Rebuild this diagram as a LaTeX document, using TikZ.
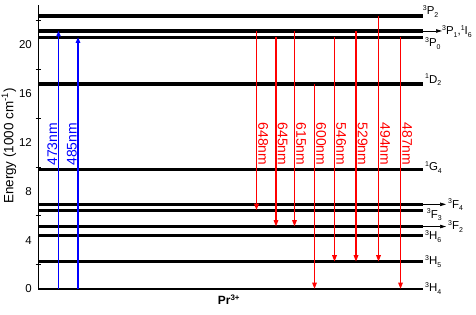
\documentclass[tikz,border=0pt]{standalone}
\usepackage{fontspec}
\setmainfont{Liberation Sans}
\usepackage{tikz}
\usetikzlibrary{arrows.meta}
\definecolor{ink}   {HTML}{000000}
\definecolor{emred} {HTML}{FF0000}
\definecolor{exblue}{HTML}{0000FF}
\newcommand\lvlname[3]{{\fontsize{7}{8}\selectfont\raisebox{4.5pt}{#1}}#2{\fontsize{7}{8}\selectfont\raisebox{-2.5pt}{#3}}}
\tikzset{
  lvl/.style   = {draw=ink, line width=3.4pt},
  axis/.style  = {draw=ink, line width=0.9pt},
  emis/.style  = {-{Triangle[length=6.5pt, width=4.5pt]}, draw=emred, line width=1.5pt},
  absn/.style  = {-{Triangle[length=5.5pt, width=4.5pt]}, draw=exblue, line width=1.2pt},
  tag/.style   = {-{Triangle[length=6pt, width=3.5pt]}, draw=ink, line width=0.7pt},
  term/.style  = {anchor=base west, inner sep=0pt, text=ink,
                  font=\fontsize{11.5}{14}\selectfont},
  elbl/.style  = {anchor=base west, inner sep=0pt, rotate=-90, text=emred,
                  font=\fontsize{14}{16}\selectfont},
  blbl/.style  = {anchor=base west, inner sep=0pt, rotate=90, text=exblue,
                  font=\fontsize{14}{16}\selectfont},
  tlbl/.style  = {anchor=east, inner sep=0pt, font=\fontsize{11.5}{13}\selectfont},
}

\begin{document}
\begin{tikzpicture}[x=1bp, y=12.2bp]
  \useasboundingbox (-38,-2.049) rectangle (438,23.689);

  % energy axis
  \draw[axis] (0.3,0) -- (0.3,23.28);
  \foreach \v in {2,6,...,22} \draw[axis] (-2.5,\v) -- (3,\v);
  \foreach \v in {0,4,...,20} \node[tlbl] (tick\v) at (-6,\v) {\v};
  \node[rotate=90, font=\fontsize{13.5}{15}\selectfont] (ylab) at (-29,11.72)
    {Energy (1000 cm\textsuperscript{-1})};

  % levels
  \draw[lvl, line width=2.4pt] (0,0) coordinate (H4) -- (385,0) coordinate (H4e);
  \foreach \n/\e in {H5/2.24, H6/4.41, F2/5.12, F3/6.46, F4/6.94, G4/9.81,
                     D2/16.80, P0/20.63, P1/21.15, P2/22.38}
    \draw[lvl] (0,\e) coordinate (\n) -- (385,\e) coordinate (\n e);

  \node[term] (tP2) at (384.7,22.46) {\lvlname{3}{P}{2}};
  \node[term] (tP1) at (404,20.82) {\lvlname{3}{P}{1},\lvlname{1}{I}{6}};
  \node[term] (tP0) at (387,19.86) {\lvlname{3}{P}{0}};
  \node[term] (tD2) at (387,16.86) {\lvlname{1}{D}{2}};
  \node[term] (tG4) at (387,9.70)  {\lvlname{1}{G}{4}};
  \node[term] (tF4) at (410,6.61)  {\lvlname{3}{F}{4}};
  \node[term] (tF3) at (388.7,5.80) {\lvlname{3}{F}{3}};
  \node[term] (tF2) at (410,4.84)  {\lvlname{3}{F}{2}};
  \node[term] (tH6) at (387,4.02)  {\lvlname{3}{H}{6}};
  \node[term] (tH5) at (387,1.97)  {\lvlname{3}{H}{5}};
  \node[term] (tH4) at (387,-0.22) {\lvlname{3}{H}{4}};
  \draw[tag] (P1e) -- (tP1.west |- P1e);
  \draw[tag, shorten >=2pt] (F4e) -- (tF4.west |- F4e);
  \draw[tag, shorten >=2pt] (F2e) -- (tF2.west |- F2e);

  % excitation
  \foreach \x/\to/\lab in {20.5/P1/473nm, 40/P0/485nm} {
    \draw[absn] (\x,0 |- H4) -- (\x,0 |- \to);
    \node[blbl] (b\lab) at ({\x-1.5},10.1) {\lab};
  }

  % emission
  \foreach \x/\from/\to/\lab in {218.5/P1/F3/648nm, 238/P0/F2/645nm,
      256.5/P1/F2/615nm, 276.5/D2/H4/600nm, 296.5/P0/H5/546nm,
      318/P1/H5/529nm, 340.5/P2/H5/494nm, 362.5/P0/H4/487nm} {
    \draw[emis] (\x,0 |- \from) -- (\x,0 |- \to);
    \node[elbl] (r\lab) at ({\x+1.8},13.65) {\lab};
  }

  \node[anchor=base, font=\fontsize{12}{14}\selectfont\bfseries] (ion) at (191,-1.31)
    {Pr\textsuperscript{3+}};
\end{tikzpicture}
\end{document}
